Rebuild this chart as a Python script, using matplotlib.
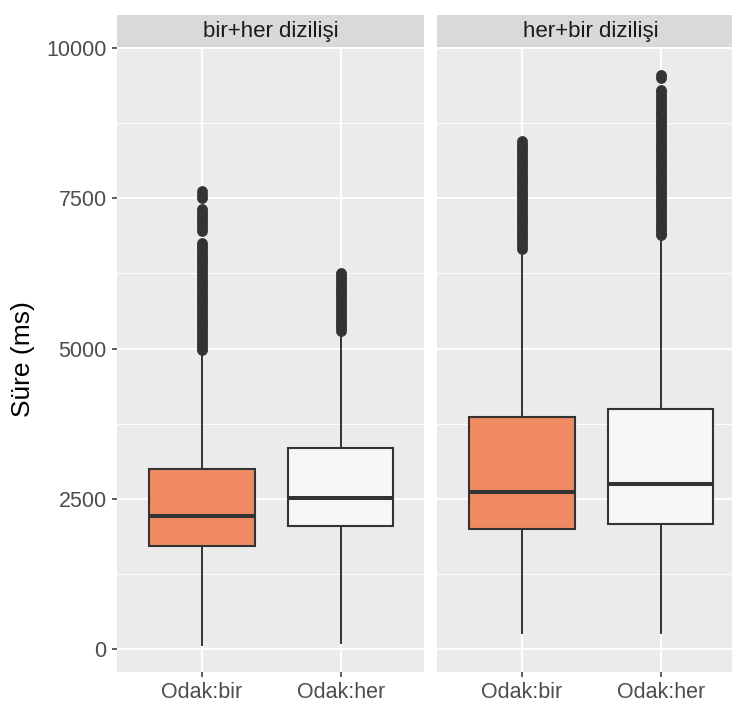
import matplotlib.pyplot as plt

plt.rcParams['font.family'] = ['Liberation Sans', 'DejaVu Sans']

# Süre verileri (ms): kutu istatistikleri ve uç değerler
paneller = ["bir+her dizilişi", "her+bir dizilişi"]
kategoriler = ["Odak:bir", "Odak:her"]
renkler = ["#EF8A62", "#F7F7F7"]

alt_biyik = [[76, 100], [265, 277]]
q1 = [[1720, 2045], [1995, 2078]]
medyan = [[2222, 2521], [2609, 2748]]
q3 = [[3002, 3345], [3859, 3997]]
ust_biyik = [[4940, 5250], [6600, 6820]]

uc_bir_her_bir = [7617, 7560, 7507, 7320, 7280, 7240, 7195, 7150, 7105, 7060,
                  7010, 6960, 6750, 6710, 6670, 6630, 6590, 6545, 6500, 6460,
                  6420, 6375, 6330, 6290, 6250, 6205, 6160, 6120, 6080, 6035,
                  5990, 5950, 5910, 5865, 5820, 5780, 5740, 5695, 5650, 5610,
                  5570, 5525, 5480, 5440, 5400, 5355, 5310, 5270, 5230, 5185,
                  5140, 5100, 5060, 5015, 4975]
uc_bir_her_her = [6265, 6220, 6180, 6140, 6100, 6055, 6010, 5970, 5930, 5885,
                  5840, 5800, 5760, 5715, 5670, 5630, 5590, 5545, 5500, 5460,
                  5420, 5380, 5340, 5295]
uc_her_bir_bir = [8455, 8410, 8370, 8330, 8290, 8245, 8200, 8160, 8120, 8075,
                  8030, 7990, 7950, 7905, 7860, 7820, 7780, 7735, 7690, 7650,
                  7610, 7565, 7520, 7480, 7440, 7395, 7350, 7310, 7270, 7225,
                  7180, 7140, 7100, 7055, 7010, 6970, 6930, 6885, 6840, 6800,
                  6760, 6710, 6662]
uc_her_bir_her = [9545, 9495, 9300, 9260, 9220, 9175, 9130, 9090, 9050, 9005,
                  8960, 8920, 8880, 8835, 8790, 8750, 8710, 8665, 8620, 8580,
                  8540, 8495, 8450, 8410, 8370, 8325, 8280, 8240, 8200, 8155,
                  8110, 8070, 8030, 7985, 7940, 7900, 7860, 7815, 7770, 7730,
                  7690, 7645, 7600, 7560, 7520, 7475, 7430, 7390, 7350, 7305,
                  7260, 7220, 7180, 7135, 7090, 7050, 7010, 6970, 6930, 6887]
uc_degerler = [[uc_bir_her_bir, uc_bir_her_her], [uc_her_bir_bir, uc_her_bir_her]]

W, H = 732, 709
fig = plt.figure(figsize=(W / 100, H / 100), dpi=100)

koyu = "#333333"
panel_sol = [117, 437]
panel_gen = 307
ust, alt = 47, 672
serit_ust = 15

for p in range(2):
    ax = fig.add_axes([panel_sol[p] / W, (H - alt) / H, panel_gen / W, (alt - ust) / H])
    ax.set_facecolor("#EBEBEB")
    for s in ax.spines.values():
        s.set_visible(False)

    stats = []
    for k in range(2):
        stats.append(dict(med=medyan[p][k], q1=q1[p][k], q3=q3[p][k],
                          whislo=alt_biyik[p][k], whishi=ust_biyik[p][k],
                          fliers=uc_degerler[p][k]))
    bp = ax.bxp(stats, positions=[1, 2], widths=0.76, patch_artist=True,
                showcaps=False, zorder=3,
                boxprops=dict(edgecolor=koyu, linewidth=1.5),
                medianprops=dict(color=koyu, linewidth=2.9, solid_capstyle='butt'),
                whiskerprops=dict(color=koyu, linewidth=1.4),
                flierprops=dict(marker='o', markersize=7.2, markerfacecolor=koyu,
                                markeredgecolor=koyu, markeredgewidth=0.5,
                                linestyle='none'))
    for kutu, renk in zip(bp['boxes'], renkler):
        kutu.set_facecolor(renk)

    ax.set_xlim(0.39, 2.6)
    ax.set_ylim(-380, 10000 + 1 / 0.0603)
    ax.set_xticks([1, 2])
    ax.set_xticklabels(kategoriler)
    ax.set_yticks([0, 2500, 5000, 7500, 10000])
    ax.set_yticks([1250, 3750, 6250, 8750], minor=True)
    ax.grid(True, which='major', color='white', linewidth=1.4, zorder=0)
    ax.grid(True, which='minor', axis='y', color='white', linewidth=0.7, zorder=0)
    ax.set_axisbelow(True)
    ax.tick_params(axis='both', which='major', length=3.5, width=1.1, color=koyu,
                   labelsize=15.5, labelcolor="#4D4D4D", pad=4)
    ax.tick_params(axis='y', which='minor', length=0)
    if p == 0:
        ax.set_ylabel("Süre (ms)", fontsize=19, color="black", labelpad=8)
    else:
        ax.tick_params(axis='y', which='both', left=False, labelleft=False)

    # başlık şeridi
    sr = fig.add_axes([panel_sol[p] / W, (H - ust) / H, panel_gen / W, (ust - serit_ust) / H])
    sr.set_facecolor("#D9D9D9")
    sr.set_xticks([])
    sr.set_yticks([])
    for s in sr.spines.values():
        s.set_visible(False)
    sr.text(0.5, 0.5, paneller[p], ha='center', va='center', fontsize=16,
            color="#1A1A1A", transform=sr.transAxes)

fig.savefig("out.png", dpi=100)
